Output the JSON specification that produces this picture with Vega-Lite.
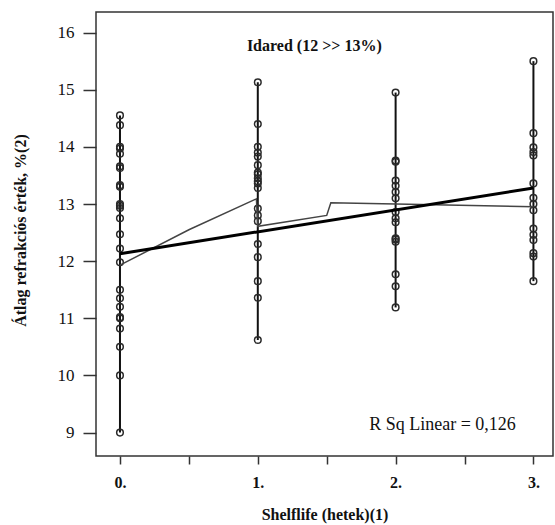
{
  "$schema": "https://vega.github.io/schema/vega-lite/v6.json",
  "width": 457,
  "height": 444,
  "autosize": {"type": "none"},
  "padding": {"left": 96, "top": 12, "right": 2, "bottom": 69},
  "background": "white",
  "config": {
    "view": {"stroke": "#333333", "strokeWidth": 1.5},
    "font": "Liberation Serif"
  },
  "datasets": {
    "points": [
      {"week": 0, "value": 14.55}, {"week": 0, "value": 14.38}, {"week": 0, "value": 14.0}, {"week": 0, "value": 13.97},
      {"week": 0, "value": 13.88}, {"week": 0, "value": 13.63}, {"week": 0, "value": 13.66}, {"week": 0, "value": 13.3},
      {"week": 0, "value": 13.33}, {"week": 0, "value": 12.97}, {"week": 0, "value": 13.0}, {"week": 0, "value": 12.93},
      {"week": 0, "value": 12.75}, {"week": 0, "value": 12.47}, {"week": 0, "value": 12.22}, {"week": 0, "value": 11.98},
      {"week": 0, "value": 11.5}, {"week": 0, "value": 11.35}, {"week": 0, "value": 11.2}, {"week": 0, "value": 11.0},
      {"week": 0, "value": 11.02}, {"week": 0, "value": 10.82}, {"week": 0, "value": 10.5}, {"week": 0, "value": 10.0},
      {"week": 0, "value": 9.0},
      {"week": 1, "value": 15.13}, {"week": 1, "value": 14.4}, {"week": 1, "value": 14.0}, {"week": 1, "value": 13.9},
      {"week": 1, "value": 13.83}, {"week": 1, "value": 13.68}, {"week": 1, "value": 13.55}, {"week": 1, "value": 13.52},
      {"week": 1, "value": 13.45}, {"week": 1, "value": 13.4}, {"week": 1, "value": 13.36}, {"week": 1, "value": 13.28},
      {"week": 1, "value": 12.92}, {"week": 1, "value": 12.8}, {"week": 1, "value": 12.7}, {"week": 1, "value": 12.3},
      {"week": 1, "value": 12.07}, {"week": 1, "value": 11.65}, {"week": 1, "value": 11.36}, {"week": 1, "value": 10.62},
      {"week": 2, "value": 14.95}, {"week": 2, "value": 13.76}, {"week": 2, "value": 13.74}, {"week": 2, "value": 13.41},
      {"week": 2, "value": 13.32}, {"week": 2, "value": 13.21}, {"week": 2, "value": 13.1}, {"week": 2, "value": 12.86},
      {"week": 2, "value": 12.75}, {"week": 2, "value": 12.68}, {"week": 2, "value": 12.4}, {"week": 2, "value": 12.38},
      {"week": 2, "value": 12.34}, {"week": 2, "value": 11.77}, {"week": 2, "value": 11.56}, {"week": 2, "value": 11.19},
      {"week": 3, "value": 15.5}, {"week": 3, "value": 14.24}, {"week": 3, "value": 13.99}, {"week": 3, "value": 13.91},
      {"week": 3, "value": 13.85}, {"week": 3, "value": 13.36}, {"week": 3, "value": 13.11}, {"week": 3, "value": 13.0},
      {"week": 3, "value": 12.89}, {"week": 3, "value": 12.57}, {"week": 3, "value": 12.46}, {"week": 3, "value": 12.37},
      {"week": 3, "value": 12.14}, {"week": 3, "value": 12.08}, {"week": 3, "value": 11.65}
    ],
    "linear": [
      {"week": 0, "value": 12.13},
      {"week": 3, "value": 13.28}
    ],
    "smooth": [
      {"week": 0, "value": 11.93},
      {"week": 0.5, "value": 12.55},
      {"week": 0.99, "value": 13.09},
      {"week": 1.0, "value": 12.61},
      {"week": 1.5, "value": 12.8},
      {"week": 1.53, "value": 13.02},
      {"week": 2, "value": 13.0},
      {"week": 3, "value": 12.95}
    ],
    "notes": [
      {"label": "Idared (12 >> 13%)", "week": 1.41, "value": 15.77, "kind": "title"},
      {"label": "R Sq Linear = 0,126", "week": 2.34, "value": 9.14, "kind": "rsq"}
    ]
  },
  "layer": [
    {
      "data": {"name": "points"},
      "mark": {"type": "rule", "color": "#111111", "strokeWidth": 2},
      "encoding": {
        "x": {
          "field": "week", "type": "quantitative",
          "scale": {"domain": [-0.174, 3.142], "nice": false, "zero": false},
          "axis": {
            "title": "Shelflife (hetek)(1)",
            "values": [0, 0.5, 1, 1.5, 2, 2.5, 3],
            "labelExpr": "datum.value % 1 === 0 ? datum.value + '.' : ''",
            "domain": false, "grid": false,
            "tickSize": 8, "tickOffset": 0, "tickColor": "#333333", "tickWidth": 1.5,
            "labelFont": "Liberation Serif", "labelFontWeight": "bold", "labelFontSize": 16, "labelColor": "#111111",
            "labelPadding": 10,
            "titleFont": "Liberation Serif", "titleFontWeight": "bold", "titleFontSize": 16, "titleColor": "#111111",
            "titlePadding": 16
          }
        },
        "y": {
          "aggregate": "min", "field": "value", "type": "quantitative",
          "scale": {"domain": [8.59, 16.36], "nice": false, "zero": false},
          "axis": {
            "title": "Átlag refrakciós érték, %(2)",
            "values": [9, 10, 11, 12, 13, 14, 15, 16],
            "format": "d",
            "domain": false, "grid": false,
            "tickSize": 13, "tickColor": "#333333", "tickWidth": 1.5,
            "labelFont": "Liberation Serif", "labelFontSize": 17, "labelColor": "#111111",
            "labelPadding": 9,
            "titleFont": "Liberation Serif", "titleFontWeight": "bold", "titleFontSize": 16, "titleColor": "#111111",
            "titleX": -68, "titleY": 218
          }
        },
        "y2": {"aggregate": "max", "field": "value"}
      }
    },
    {
      "data": {"name": "points"},
      "mark": {"type": "point", "shape": "circle", "filled": false, "size": 44, "stroke": "#2a2a2a", "strokeWidth": 1.5, "opacity": 1},
      "encoding": {
        "x": {"field": "week", "type": "quantitative"},
        "y": {"field": "value", "type": "quantitative"}
      }
    },
    {
      "data": {"name": "smooth"},
      "mark": {"type": "line", "color": "#444444", "strokeWidth": 1.5},
      "encoding": {
        "x": {"field": "week", "type": "quantitative"},
        "y": {"field": "value", "type": "quantitative"}
      }
    },
    {
      "data": {"name": "linear"},
      "mark": {"type": "line", "color": "#000000", "strokeWidth": 3},
      "encoding": {
        "x": {"field": "week", "type": "quantitative"},
        "y": {"field": "value", "type": "quantitative"}
      }
    },
    {
      "data": {"name": "notes"},
      "transform": [{"filter": "datum.kind === 'title'"}],
      "mark": {"type": "text", "font": "Liberation Serif", "fontWeight": "bold", "fontSize": 16, "color": "#111111", "align": "center", "baseline": "middle"},
      "encoding": {
        "x": {"field": "week", "type": "quantitative"},
        "y": {"field": "value", "type": "quantitative"},
        "text": {"field": "label"}
      }
    },
    {
      "data": {"name": "notes"},
      "transform": [{"filter": "datum.kind === 'rsq'"}],
      "mark": {"type": "text", "font": "Liberation Serif", "fontSize": 18, "color": "#111111", "align": "center", "baseline": "middle"},
      "encoding": {
        "x": {"field": "week", "type": "quantitative"},
        "y": {"field": "value", "type": "quantitative"},
        "text": {"field": "label"}
      }
    }
  ]
}
